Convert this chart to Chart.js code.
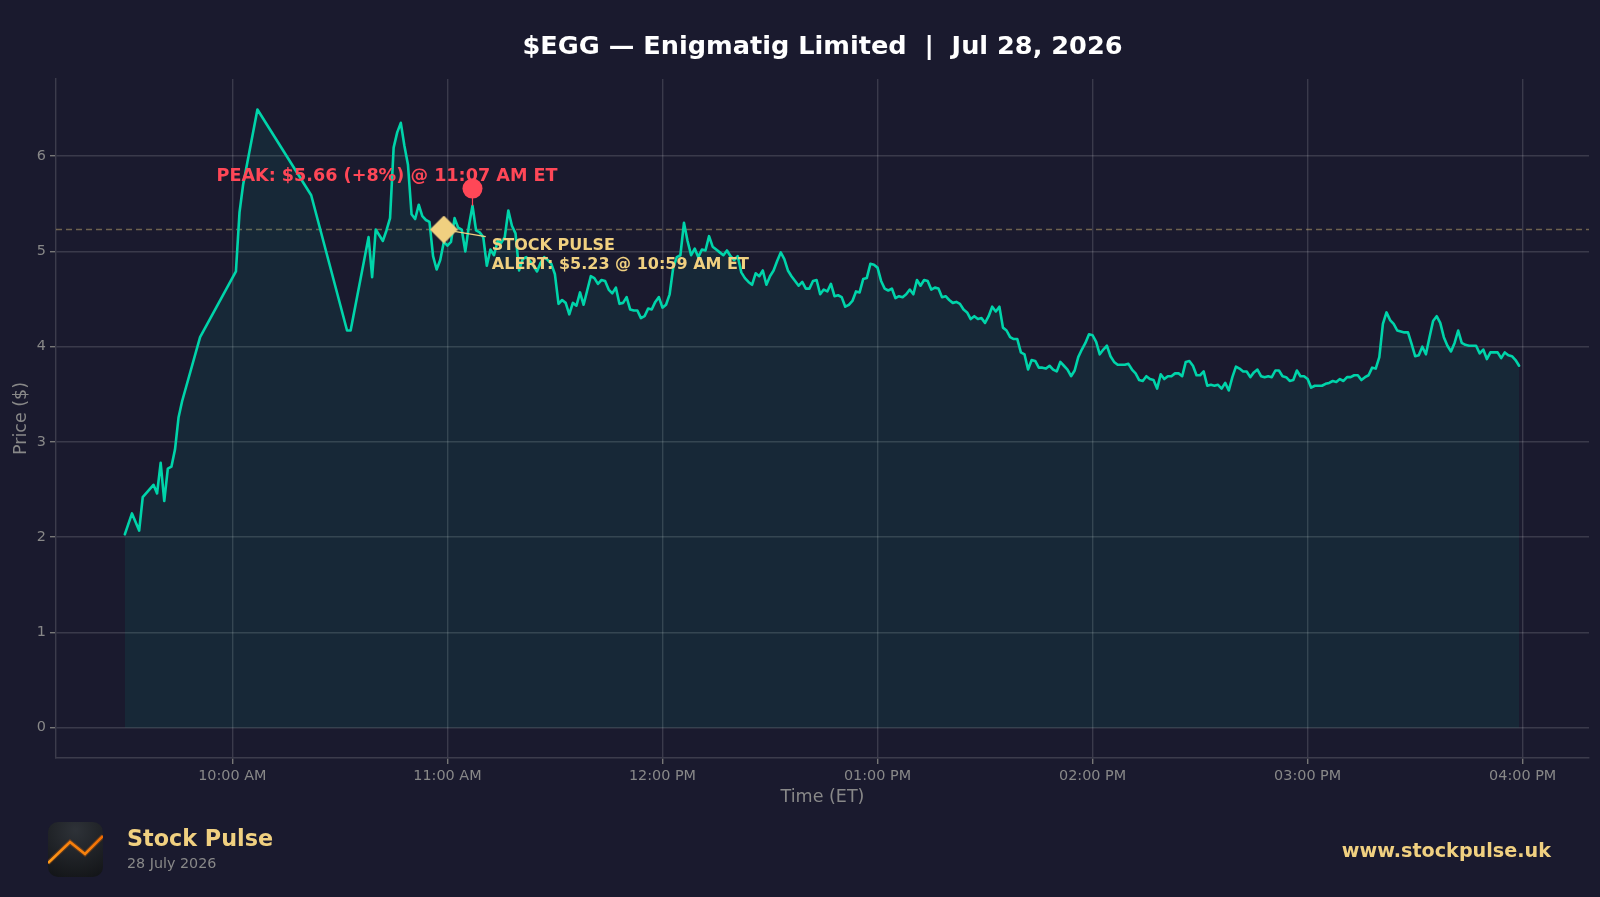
<!DOCTYPE html>
<html>
<head>
<meta charset="utf-8">
<title>$EGG</title>
<script src="https://cdn.jsdelivr.net/npm/chart.js@4"></script>
<style>
  html, body { margin: 0; padding: 0; background: #1a1a2e; overflow: hidden; }
  #wrap { position: relative; width: 1600px; height: 897px; overflow: hidden; font-family: "DejaVu Sans", sans-serif; }
  #chart { position: absolute; left: 0; top: 0; }
  #logo { position: absolute; left: 48px; top: 822px; }
  .foot { position: absolute; white-space: nowrap; line-height: 1; }
  #brand { left: 127px; top: 827px; font-size: 22.3px; font-weight: bold; color: #f0d080; }
  #date { left: 127px; top: 856px; font-size: 14.3px; color: #888888; }
  #site { right: 49px; top: 841px; font-size: 19.2px; font-weight: bold; color: #f0d080; }
</style>
</head>
<body>
<div id="wrap">
  <canvas id="chart" width="1603" height="897"></canvas>
  <svg id="logo" width="55" height="55" viewBox="0 0 55 55">
    <defs>
      <radialGradient id="logoBg" cx="0.5" cy="0.15" r="0.9">
        <stop offset="0" stop-color="#2e3238"/>
        <stop offset="1" stop-color="#141619"/>
      </radialGradient>
      <linearGradient id="logoLine" x1="0" y1="1" x2="1" y2="0">
        <stop offset="0" stop-color="#ff9a1a"/>
        <stop offset="1" stop-color="#f06a00"/>
      </linearGradient>
      <clipPath id="logoClip"><rect width="55" height="55" rx="10"/></clipPath>
    </defs>
    <g clip-path="url(#logoClip)">
      <rect width="55" height="55" fill="url(#logoBg)"/>
      <polyline points="0,41 22,20 37,32 55,14" fill="none" stroke="#f06a00" stroke-opacity="0.25" stroke-width="5"/>
      <polyline points="0,41 22,20 37,32 55,14" fill="none" stroke="url(#logoLine)" stroke-width="2.6"/>
    </g>
  </svg>
  <div class="foot" id="brand">Stock Pulse</div>
  <div class="foot" id="date">28 July 2026</div>
  <div class="foot" id="site">www.stockpulse.uk</div>
</div>
<script>
const titleText = "$EGG — Enigmatig Limited  |  Jul 28, 2026";

// minutes after midnight, the first hour of the session is sparse
const times = [
  570, 572, 574, 575, 578, 579, 580, 581, 582, 583,
  584, 585, 586, 591, 601, 602, 603, 607, 622, 632,
  633, 638, 639, 640, 642, 643, 644, 645, 646, 647, 648, 649,
  650, 651, 652, 653, 654, 655, 656, 657, 658, 659,
  660, 661, 662, 663, 664, 665, 666, 667, 668, 669,
  670, 671, 672, 673, 674, 675, 676, 677, 678, 679,
  680, 681, 682, 683, 684, 685, 686, 687, 688, 689,
  690, 691, 692, 693, 694, 695, 696, 697, 698, 699,
  700, 701, 702, 703, 704, 705, 706, 707, 708, 709,
  710, 711, 712, 713, 714, 715, 716, 717, 718, 719,
  720, 721, 722, 723, 724, 725, 726, 727, 728, 729,
  730, 731, 732, 733, 734, 735, 736, 737, 738, 739,
  740, 741, 742, 743, 744, 745, 746, 747, 748, 749,
  750, 751, 752, 753, 754, 755, 756, 757, 758, 759,
  760, 761, 762, 763, 764, 765, 766, 767, 768, 769,
  770, 771, 772, 773, 774, 775, 776, 777, 778, 779,
  780, 781, 782, 783, 784, 785, 786, 787, 788, 789,
  790, 791, 792, 793, 794, 795, 796, 797, 798, 799,
  800, 801, 802, 803, 804, 805, 806, 807, 808, 809,
  810, 811, 812, 813, 814, 815, 816, 817, 818, 819,
  820, 821, 822, 823, 824, 825, 826, 827, 828, 829,
  830, 831, 832, 833, 834, 835, 836, 837, 838, 839,
  840, 841, 842, 843, 844, 845, 846, 847, 848, 849,
  850, 851, 852, 853, 854, 855, 856, 857, 858, 859,
  860, 861, 862, 863, 864, 865, 866, 867, 868, 869,
  870, 871, 872, 873, 874, 875, 876, 877, 878, 879,
  880, 881, 882, 883, 884, 885, 886, 887, 888, 889,
  890, 891, 892, 893, 894, 895, 896, 897, 898, 899,
  900, 901, 902, 903, 904, 905, 906, 907, 908, 909,
  910, 911, 912, 913, 914, 915, 916, 917, 918, 919,
  920, 921, 922, 923, 924, 925, 926, 927, 928, 929,
  930, 931, 932, 933, 934, 935, 936, 937, 938, 939,
  940, 941, 942, 943, 944, 945, 946, 947, 948, 949,
  950, 951, 952, 953, 954, 955, 956, 957, 958, 959
];

const prices = [
  2.03, 2.25, 2.07, 2.42, 2.55, 2.46, 2.78, 2.38, 2.72, 2.74,
  2.92, 3.26, 3.43, 4.10, 4.79, 5.41, 5.70, 6.49, 5.59, 4.17,
  4.17, 5.15, 4.73, 5.23, 5.11, 5.22, 5.35, 6.09, 6.25, 6.35, 6.11, 5.91,
  5.39, 5.34, 5.49, 5.37, 5.33, 5.31, 4.95, 4.81, 4.91, 5.10,
  5.06, 5.10, 5.35, 5.25, 5.23, 5.00, 5.27, 5.48, 5.22, 5.20,
  5.15, 4.85, 5.02, 4.96, 5.11, 5.09, 5.15, 5.43, 5.27, 5.19,
  4.80, 4.92, 4.94, 4.90, 4.85, 4.79, 4.88, 4.94, 4.91, 4.87,
  4.76, 4.45, 4.49, 4.46, 4.34, 4.46, 4.43, 4.57, 4.44, 4.59,
  4.74, 4.72, 4.66, 4.70, 4.69, 4.60, 4.56, 4.62, 4.45, 4.46,
  4.52, 4.39, 4.38, 4.38, 4.30, 4.32, 4.40, 4.39, 4.47, 4.52,
  4.41, 4.44, 4.55, 4.83, 4.94, 4.96, 5.30, 5.11, 4.96, 5.03,
  4.94, 5.02, 5.01, 5.16, 5.05, 5.02, 4.99, 4.96, 5.01, 4.95,
  4.91, 4.95, 4.78, 4.72, 4.68, 4.65, 4.77, 4.74, 4.80, 4.65,
  4.74, 4.80, 4.90, 4.99, 4.92, 4.80, 4.74, 4.69, 4.64, 4.68,
  4.61, 4.61, 4.69, 4.70, 4.55, 4.60, 4.58, 4.66, 4.53, 4.54,
  4.52, 4.42, 4.44, 4.48, 4.58, 4.57, 4.71, 4.72, 4.87, 4.86,
  4.83, 4.69, 4.61, 4.59, 4.61, 4.51, 4.53, 4.52, 4.55, 4.60,
  4.55, 4.70, 4.64, 4.70, 4.69, 4.60, 4.62, 4.61, 4.52, 4.53,
  4.49, 4.46, 4.47, 4.45, 4.39, 4.36, 4.29, 4.32, 4.29, 4.30,
  4.25, 4.32, 4.42, 4.37, 4.42, 4.20, 4.17, 4.10, 4.08, 4.08,
  3.94, 3.92, 3.76, 3.86, 3.85, 3.78, 3.78, 3.77, 3.80, 3.76,
  3.74, 3.84, 3.80, 3.76, 3.69, 3.75, 3.89, 3.97, 4.04, 4.13,
  4.12, 4.05, 3.92, 3.97, 4.01, 3.90, 3.84, 3.81, 3.81, 3.81,
  3.82, 3.76, 3.72, 3.65, 3.64, 3.69, 3.66, 3.65, 3.56, 3.71,
  3.66, 3.69, 3.69, 3.72, 3.72, 3.69, 3.84, 3.85, 3.80, 3.70,
  3.70, 3.74, 3.59, 3.60, 3.59, 3.60, 3.56, 3.62, 3.54, 3.68,
  3.79, 3.77, 3.74, 3.74, 3.68, 3.73, 3.76, 3.69, 3.68, 3.69,
  3.68, 3.75, 3.75, 3.69, 3.68, 3.64, 3.65, 3.75, 3.69, 3.69,
  3.66, 3.57, 3.59, 3.59, 3.59, 3.61, 3.62, 3.64, 3.63, 3.66,
  3.64, 3.68, 3.68, 3.70, 3.70, 3.65, 3.68, 3.70, 3.78, 3.77,
  3.89, 4.24, 4.36, 4.28, 4.24, 4.17, 4.16, 4.15, 4.15, 4.03,
  3.90, 3.91, 4.00, 3.92, 4.10, 4.27, 4.32, 4.25, 4.10, 4.01,
  3.95, 4.04, 4.17, 4.04, 4.02, 4.01, 4.01, 4.01, 3.93, 3.97,
  3.87, 3.94, 3.94, 3.94, 3.88, 3.94, 3.91, 3.90, 3.86, 3.80
];

const xTicks = [600, 660, 720, 780, 840, 900, 960];
const xTickLabels = ["10:00 AM", "11:00 AM", "12:00 PM", "01:00 PM", "02:00 PM", "03:00 PM", "04:00 PM"];
const yTicks = [0, 1, 2, 3, 4, 5, 6];

const xRange = [550.8, 978.5];
const yRange = [-0.318, 6.81];

const peakTime = 667;
const peakPrice = 5.66;
const peakLineEnd = 5.48;
const alertTime = 659;
const alertPrice = 5.23;
const alertLeaderEnd = [670.7, 5.155];

const peakLabel = "PEAK: $5.66 (+8%) @ 11:07 AM ET";
const alertLabels = ["STOCK PULSE", "ALERT: $5.23 @ 10:59 AM ET"];

const gridColor = "rgba(255,255,255,0.14)";
const tickColor = "#888888";
const gold = "#f0d080";
const red = "#ff4757";

// Chart.js rounds the corners of rectRot, the alert marker has sharp ones
function diamondMarker(half, color) {
    const c = document.createElement("canvas");
    c.width = c.height = half * 2;
    const g = c.getContext("2d");
    g.fillStyle = color;
    g.beginPath();
    g.moveTo(half, 0);
    g.lineTo(half * 2, half);
    g.lineTo(half, half * 2);
    g.lineTo(0, half);
    g.closePath();
    g.fill();
    return c;
}

// labels sit next to the markers, so they follow the scales
const calloutPlugin = {
    id: "callouts",
    afterDatasetsDraw(chart) {
        const { ctx, scales } = chart;
        const px = scales.x.getPixelForValue(peakTime);
        const py = scales.y.getPixelForValue(peakPrice);
        const ax = scales.x.getPixelForValue(alertTime);
        const ay = scales.y.getPixelForValue(alertPrice);

        ctx.save();
        ctx.textBaseline = "middle";
        ctx.textAlign = "left";

        ctx.font = "bold 17.6px 'DejaVu Sans'";
        ctx.fillStyle = red;
        ctx.fillText(peakLabel, px - 256, py - 12);

        ctx.font = "bold 16px 'DejaVu Sans'";
        ctx.fillStyle = gold;
        ctx.fillText(alertLabels[0], ax + 48, ay + 16);
        ctx.fillText(alertLabels[1], ax + 48, ay + 35);
        ctx.restore();
    }
};

// first dataset is drawn on top
new Chart(document.getElementById("chart"), {
    type: "line",
    data: {
        datasets: [
            {
                label: "Alert",
                data: [{ x: alertTime, y: alertPrice }],
                showLine: false,
                pointStyle: diamondMarker(14, gold),
                pointRadius: 14,
                pointBorderWidth: 0
            },
            {
                label: "Peak",
                data: [{ x: peakTime, y: peakPrice }],
                showLine: false,
                pointStyle: "circle",
                pointRadius: 10,
                pointBackgroundColor: red,
                pointBorderWidth: 0
            },
            {
                label: "Alert leader",
                data: [{ x: alertTime, y: alertPrice }, { x: alertLeaderEnd[0], y: alertLeaderEnd[1] }],
                borderColor: gold,
                borderWidth: 1.3,
                pointRadius: 0,
                fill: false
            },
            {
                label: "Peak stem",
                data: [{ x: peakTime, y: peakPrice }, { x: peakTime, y: peakLineEnd }],
                borderColor: red,
                borderWidth: 1.2,
                pointRadius: 0,
                fill: false
            },
            {
                label: "Price",
                data: times.map((t, i) => ({ x: t, y: prices[i] })),
                borderColor: "#00d4aa",
                borderWidth: 2.6,
                borderJoinStyle: "round",
                borderCapStyle: "round",
                backgroundColor: "rgba(0,212,170,0.08)",
                pointRadius: 0,
                tension: 0,
                fill: "origin"
            },
            {
                label: "Alert level",
                data: xRange.map(x => ({ x, y: alertPrice })),
                borderColor: "rgba(240,208,128,0.4)",
                borderWidth: 1.3,
                borderDash: [6, 4],
                pointRadius: 0,
                fill: false
            }
        ]
    },
    options: {
        responsive: false,
        animation: false,
        devicePixelRatio: 1,
        layout: { padding: { left: 0, right: 2, top: 0, bottom: 69 } },
        plugins: {
            legend: { display: false },
            tooltip: { enabled: false },
            title: {
                display: true,
                text: titleText,
                fullSize: false,
                color: "#ffffff",
                font: { family: "'DejaVu Sans'", size: 25.6, weight: "bold" },
                padding: { top: 32, bottom: 16.3 }
            }
        },
        scales: {
            x: {
                type: "linear",
                min: xRange[0],
                max: xRange[1],
                afterBuildTicks: axis => { axis.ticks = xTicks.map(v => ({ value: v })); },
                afterFit: axis => {
                    axis.height = 70;
                    axis.paddingLeft = 0;
                    axis.paddingRight = 0;
                },
                grid: { color: gridColor, lineWidth: 1.4, tickColor: "#777777", tickLength: 6 },
                border: { color: "#3c3c4c", width: 1.4 },
                ticks: {
                    color: tickColor,
                    font: { family: "'DejaVu Sans'", size: 14.4 },
                    maxRotation: 0,
                    autoSkip: false,
                    padding: 4,
                    callback: (value, i) => xTickLabels[i]
                },
                title: {
                    display: true,
                    text: "Time (ET)",
                    color: tickColor,
                    font: { family: "'DejaVu Sans'", size: 17.5 },
                    padding: { top: 1, bottom: 20 }
                }
            },
            y: {
                min: yRange[0],
                max: yRange[1],
                afterBuildTicks: axis => { axis.ticks = yTicks.map(v => ({ value: v })); },
                afterFit: axis => { axis.width = 56; },
                grid: { color: gridColor, lineWidth: 1.4, tickColor: "#777777", tickLength: 6 },
                border: { color: "#3c3c4c", width: 1.4 },
                ticks: {
                    color: tickColor,
                    font: { family: "'DejaVu Sans'", size: 14.4 },
                    padding: 4,
                    callback: v => v
                },
                title: {
                    display: true,
                    text: "Price ($)",
                    color: tickColor,
                    font: { family: "'DejaVu Sans'", size: 17.5 },
                    padding: { top: 11, bottom: 0 }
                }
            }
        }
    },
    plugins: [calloutPlugin]
});
</script>
</body>
</html>
